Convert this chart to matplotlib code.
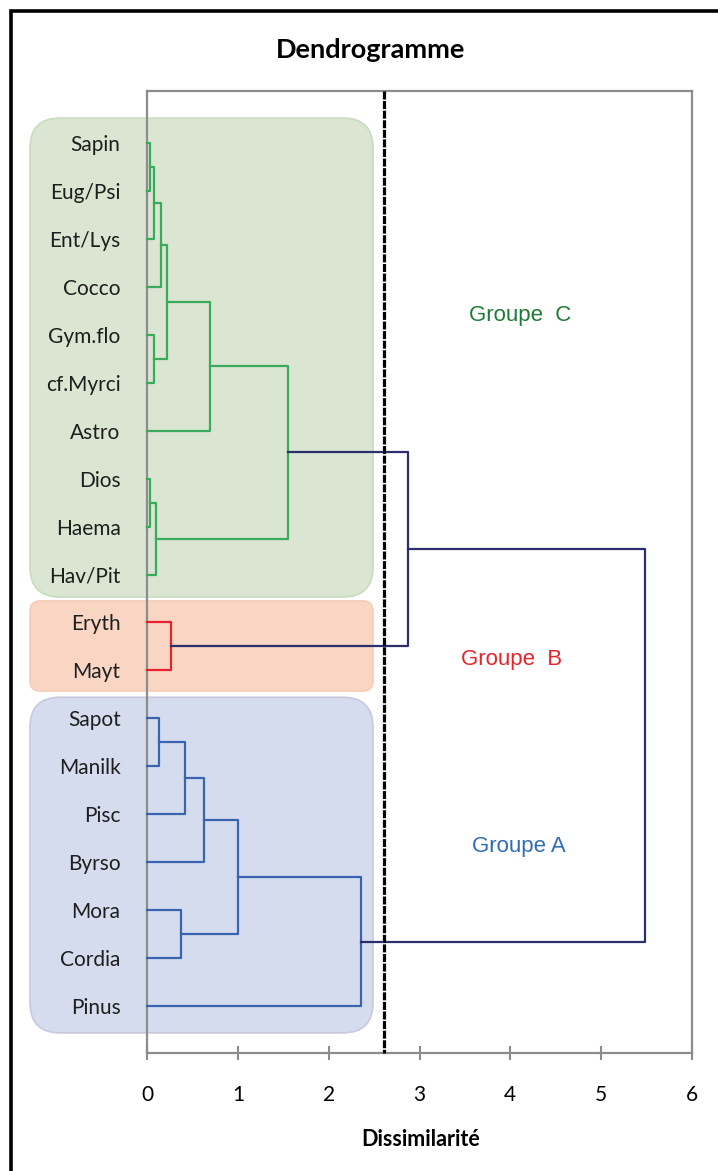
import matplotlib
matplotlib.use("Agg")
import matplotlib.pyplot as plt
from matplotlib.patches import FancyBboxPatch, Rectangle

# leaves, top to bottom
leaves = ["Sapin", "Eug/Psi", "Ent/Lys", "Cocco", "Gym.flo", "cf.Myrci", "Astro",
          "Dios", "Haema", "Hav/Pit", "Eryth", "Mayt", "Sapot", "Manilk", "Pisc",
          "Byrso", "Mora", "Cordia", "Pinus"]
groups = ["C"] * 10 + ["B"] * 2 + ["A"] * 7

# merges: (left node, right node, dissimilarity); new nodes numbered from 19
merges = [
    (0, 1, 0.03), (19, 2, 0.08), (20, 3, 0.15), (4, 5, 0.08), (21, 22, 0.22),
    (23, 6, 0.69), (7, 8, 0.03), (25, 9, 0.10), (24, 26, 1.55),
    (10, 11, 0.26),
    (12, 13, 0.13), (29, 14, 0.42), (30, 15, 0.63), (16, 17, 0.37),
    (31, 32, 1.00), (33, 18, 2.36),
    (27, 28, 2.87), (35, 34, 5.48),
]
cut_level = 2.61
x_ticks = [0, 1, 2, 3, 4, 5, 6]

line_colors = {"C": "#3aaa5c", "B": "#e8212e", "A": "#3a64b0", None: "#2c2f6e"}
text_colors = {"C": "#1e7a34", "B": "#e8232a", "A": "#2e6db6"}
box_style = {"C": ("#dae6d2", "#c9dbc0"), "B": ("#f9d6c4", "#f5cdb8"), "A": ("#d5dcee", "#c8c8df")}

W, H = 718, 1171
fig = plt.figure(figsize=(W / 100, H / 100), dpi=100)
ax = fig.add_axes([147 / W, 1 - 1053 / H, (692 - 147) / W, (1053 - 91) / H])
ax.set_xlim(0, 6)
ax.set_ylim(19.98, -0.085)
ax.set_facecolor("none")

# coloured background boxes (left of and inside the axes)
px_x = (692 - 147) / 6.0
px_y = (1053 - 91) / 20.065
boxes = [("C", 0.48, 10.47, 30), ("B", 10.55, 12.43, 10), ("A", 12.56, 19.56, 30)]
for g, y0, y1, r in boxes:
    fc, ec = box_style[g]
    x0 = (30 - 147) / px_x
    x1 = (373 - 147) / px_x
    p = FancyBboxPatch((x0, y0), x1 - x0, y1 - y0,
                       boxstyle="round,pad=0,rounding_size=%f" % (r / px_x),
                       mutation_aspect=px_x / px_y,
                       fc=fc, ec=ec, lw=1.2, zorder=0, clip_on=False)
    ax.add_patch(p)

# dendrogram links
pos = {i: i + 1.0 for i in range(len(leaves))}
height = {i: 0.0 for i in range(len(leaves))}
members = {i: {groups[i]} for i in range(len(leaves))}
for k, (a, b, h) in enumerate(merges):
    node = len(leaves) + k
    mem = members[a] | members[b]
    col = line_colors[list(mem)[0] if len(mem) == 1 else None]
    ax.plot([height[a], h, h, height[b]], [pos[a], pos[a], pos[b], pos[b]],
            color=col, lw=1.6, zorder=3, solid_capstyle="projecting", clip_on=False)
    pos[node] = (pos[a] + pos[b]) / 2
    height[node] = h
    members[node] = mem

# cut line
ax.plot([cut_level, cut_level], [-0.085, 19.98], color="black", lw=2.3,
        ls=(0, (2.5, 0.5)), zorder=4, clip_on=False)

for s in ax.spines.values():
    s.set_color("#8c8c8c")
    s.set_linewidth(1.6)
    s.set_zorder(2)

ax.set_xticks(x_ticks)
ax.set_xticklabels([str(t) for t in x_ticks], fontsize=15, family="Lato")
ax.tick_params(axis="x", direction="inout", length=10, width=1.5, color="#8c8c8c", pad=18)
ax.set_yticks(range(1, len(leaves) + 1))
ax.set_yticklabels(leaves, fontsize=15, family="Lato", color="#1e1e1e")
ax.tick_params(axis="y", length=0, pad=19)

ax.text(4.11, 4.6, "Groupe  C", color=text_colors["C"], fontsize=16,
        family="Liberation Sans", ha="center", va="center")
ax.text(4.01, 11.78, "Groupe  B", color=text_colors["B"], fontsize=16,
        family="Liberation Sans", ha="center", va="center")
ax.text(4.09, 15.67, "Groupe A", color=text_colors["A"], fontsize=16,
        family="Liberation Sans", ha="center", va="center")

fig.text(371 / W, 1 - 50 / H, "Dendrogramme", fontsize=19.5, fontweight="bold",
         family="Lato", ha="center", va="center")
fig.text(421 / W, 1 - 1140 / H, "Dissimilarité", fontsize=15.5, fontweight="bold",
         family="Lato", ha="center", va="center")

# outer black frame (cut by the image edges on the right and bottom)
fig.add_artist(Rectangle((11 / W, -0.1), 1.2, 1.1 - 11 / H, transform=fig.transFigure,
                         fill=False, ec="black", lw=2.6))

fig.savefig("out.png", dpi=100)
